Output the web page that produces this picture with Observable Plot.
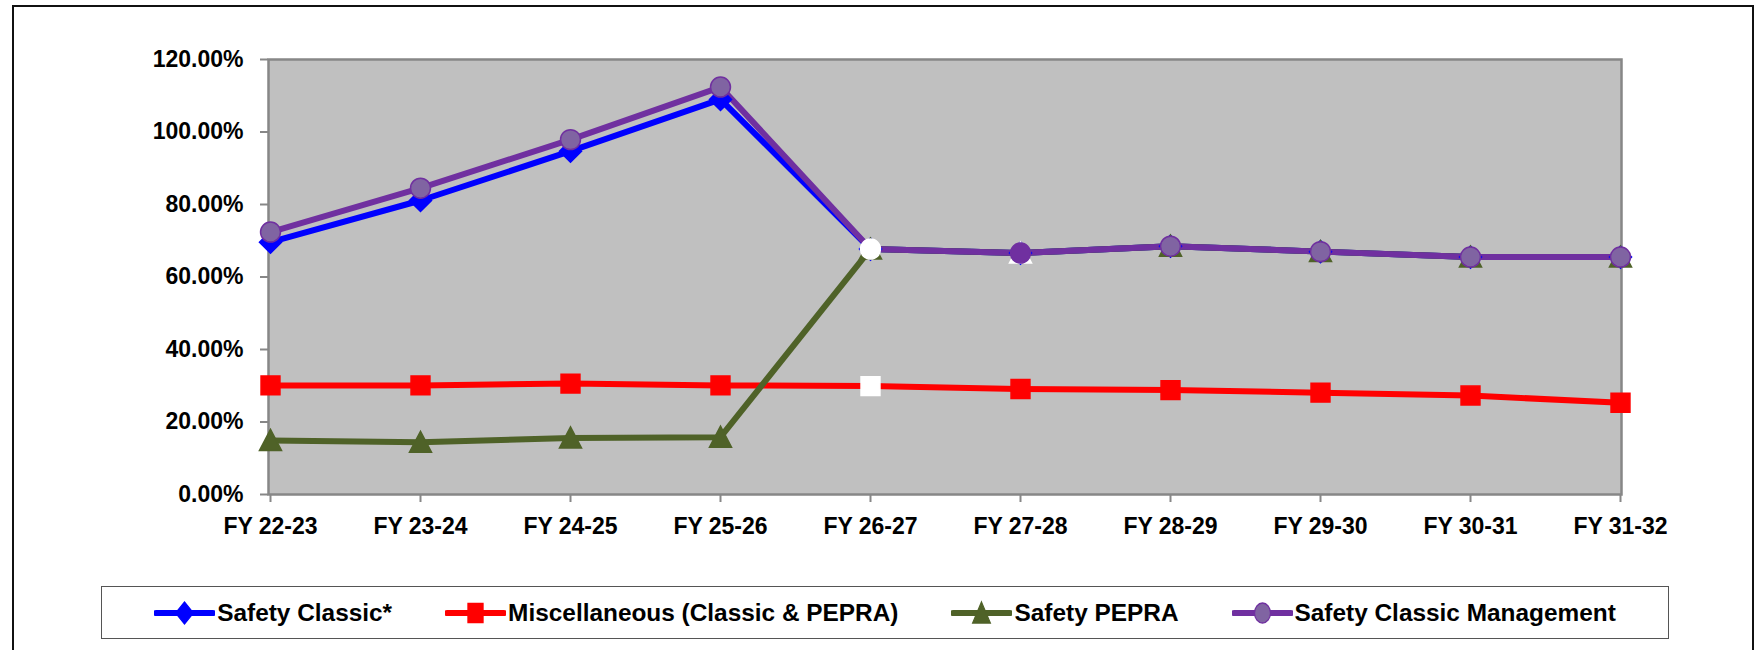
<!DOCTYPE html>
<html>
<head>
<meta charset="utf-8">
<script src="https://cdn.jsdelivr.net/npm/d3@7"></script>
<script src="https://cdn.jsdelivr.net/npm/@observablehq/plot@0.6"></script>
<style>
  html, body { margin: 0; padding: 0; background: #fff; }
  body { width: 1754px; height: 650px; overflow: hidden; position: relative;
         font-family: "Liberation Sans", Arial, sans-serif; font-weight: bold; }
  #frame { position: absolute; left: 12px; top: 5px; width: 1738px; height: 700px; border: 2px solid #111; }
  #chart { position: absolute; left: 0; top: 0; }
  #legend { position: absolute; left: 101px; top: 586px; width: 1566px; height: 51px;
            border: 1.5px solid #555; box-sizing: content-box; display: flex; align-items: center;
            justify-content: center; gap: 53px; font-size: 24.4px; color: #000; background: #fff; white-space: nowrap; }
  .item { display: flex; align-items: center; white-space: nowrap; }
  .item svg { display: block; margin-right: 2px; }
</style>
</head>
<body>
<div id="frame"></div>
<div id="chart"></div>
<div id="legend"></div>
<script>
// ---- data ----
const years = ["FY 22-23","FY 23-24","FY 24-25","FY 25-26","FY 26-27","FY 27-28","FY 28-29","FY 29-30","FY 30-31","FY 31-32"];
const safetyClassic     = [0.696, 0.811, 0.947, 1.090, 0.677, 0.666, 0.685, 0.670, 0.655, 0.655];
const miscellaneous     = [0.301, 0.301, 0.306, 0.301, 0.299, 0.291, 0.288, 0.281, 0.273, 0.253];
const safetyPEPRA       = [0.149, 0.144, 0.156, 0.158, 0.677, 0.666, 0.685, 0.670, 0.655, 0.655];
const safetyClassicMgmt = [0.724, 0.845, 0.979, 1.124, 0.677, 0.666, 0.685, 0.670, 0.655, 0.655];
const seriesNames = ["Safety Classic*", "Miscellaneous (Classic & PEPRA)", "Safety PEPRA", "Safety Classic Management"];
const yTicks = [0, 0.2, 0.4, 0.6, 0.8, 1.0, 1.2];

// ---- styles ----
const seriesStyle = [
  {values: safetyClassic,     line: "#0000FF", fill: "#0000FF", stroke: "#0000FF", shape: "diamond"},
  {values: miscellaneous,     line: "#FF0000", fill: "#FF0000", stroke: "#FF0000", shape: "square"},
  {values: safetyPEPRA,       line: "#4F6228", fill: "#4F6228", stroke: "#4F6228", shape: "triangle"},
  {values: safetyClassicMgmt, line: "#7030A0", fill: "#8064A2", stroke: "#7030A0", shape: "circle"}
];
// individually formatted points (Excel point overrides)
const pointOverride = {
  "1|FY 26-27": {fill: "#FFFFFF", stroke: "#FFFFFF"},
  "3|FY 26-27": {fill: "#FFFFFF", stroke: "#FFFFFF"},
  "2|FY 27-28": {fill: "#FFFFFF", stroke: "#FFFFFF"},
  "3|FY 27-28": {fill: "#7030A0", stroke: "#7030A0"}
};

// custom symbols (size = pi r^2)
const rOf = s => Math.sqrt(s / Math.PI);
const symbols = {
  diamond: {draw(c, s){ const r = rOf(s)*1.05; c.moveTo(0,-r); c.lineTo(r,0); c.lineTo(0,r); c.lineTo(-r,0); c.closePath(); }},
  square:  {draw(c, s){ const r = rOf(s)*0.9; c.rect(-r,-r,2*r,2*r); }},
  triangle:{draw(c, s){ const r = rOf(s); c.moveTo(0,-r*1.05); c.lineTo(r*1.05,r*0.95); c.lineTo(-r*1.05,r*0.95); c.closePath(); }},
  circle:  {draw(c, s){ const r = rOf(s)*0.95; c.moveTo(r,0); c.arc(0,0,r,0,2*Math.PI); c.closePath(); }}
};

const rows = [];
seriesStyle.forEach((st, si) => {
  years.forEach((yr, i) => {
    const o = pointOverride[si + "|" + yr] || {};
    rows.push({series: seriesNames[si], si, year: yr, value: st.values[i],
               line: st.line, fill: o.fill || st.fill, stroke: o.stroke || st.stroke, shape: st.shape});
  });
});

const marks = [
  Plot.frame({fill: "#C0C0C0", stroke: "#878787", strokeWidth: 2.5}),
  Plot.axisY({ticks: yTicks, tickSize: 8, tickPadding: 17, stroke: "#878787", strokeWidth: 2, fill: "#000",
              tickFormat: d => (d * 100).toFixed(2) + "%", label: null}),
  Plot.axisX({tickSize: 8, tickPadding: 15, stroke: "#878787", strokeWidth: 2, fill: "#000", label: null})
];
seriesStyle.forEach((st, si) => {
  marks.push(Plot.line(rows.filter(r => r.si === si), {x: "year", y: "value", stroke: st.line, strokeWidth: 6, strokeLinejoin: "round"}));
});
seriesStyle.forEach((st, si) => {
  marks.push(Plot.dot(rows.filter(r => r.si === si), {x: "year", y: "value", symbol: symbols[st.shape], r: 10.5,
    fill: d => d.fill, stroke: d => d.stroke, strokeWidth: 1.5}));
});

const chart = Plot.plot({
  width: 1754, height: 560,
  marginLeft: 268, marginRight: 133, marginTop: 59, marginBottom: 66,
  x: {type: "point", domain: years, padding: 0},
  y: {domain: [0, 1.2]},
  style: {background: "transparent", fontFamily: '"Liberation Sans", Arial, sans-serif',
          fontSize: "23px", fontWeight: "bold", color: "#000", overflow: "visible"},
  marks
});
document.getElementById("chart").appendChild(chart);

// legend
const legend = document.getElementById("legend");
seriesStyle.forEach((st, si) => {
  const item = document.createElement("div");
  item.className = "item";
  const svg = d3.create("svg").attr("width", 61).attr("height", 26);
  svg.append("line").attr("x1", 2).attr("x2", 59).attr("y1", 13).attr("y2", 13)
     .attr("stroke", st.line).attr("stroke-width", 6).attr("stroke-linecap", "round");
  const g = svg.append("g").attr("transform", "translate(30.5,13) scale(0.8,1)");
  g.append("path").attr("d", d3.symbol().type(symbols[st.shape]).size(Math.PI * 10.5 * 10.5)())
   .attr("fill", st.fill).attr("stroke", st.stroke).attr("stroke-width", 1.5);
  item.appendChild(svg.node());
  const span = document.createElement("span");
  span.textContent = seriesNames[si];
  item.appendChild(span);
  legend.appendChild(item);
});
</script>
</body>
</html>
